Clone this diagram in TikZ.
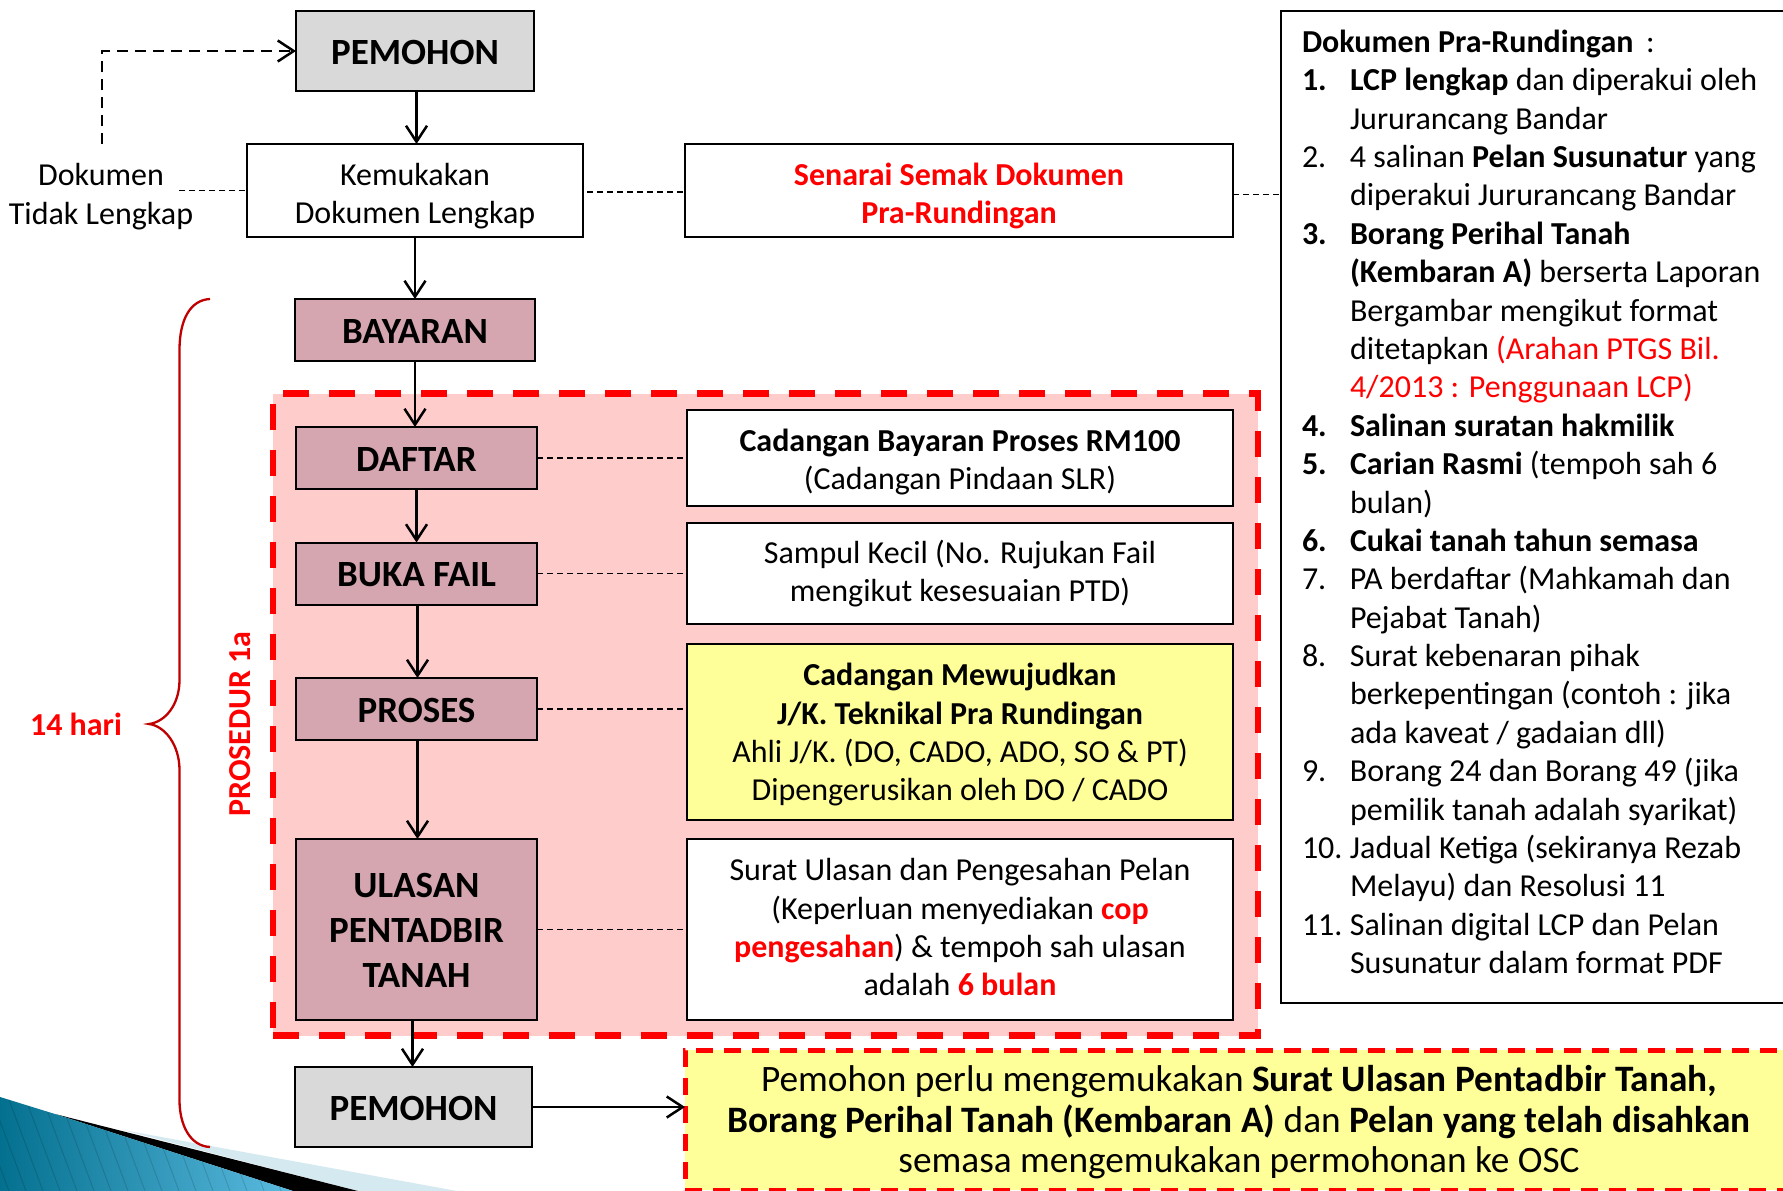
\documentclass[tikz,border=0pt]{standalone}
\usepackage{fontspec}
\setmainfont{Carlito}
\usetikzlibrary{arrows.meta,calc}
\definecolor{greybox}{HTML}{D9D9D9}
\definecolor{mauve}{HTML}{D5A6B0}
\definecolor{pinkbg}{HTML}{FFCCCC}
\definecolor{paleyel}{HTML}{FFFF99}
\definecolor{bracered}{HTML}{C00000}
\definecolor{tealdark}{HTML}{04708F}
\definecolor{teallight}{HTML}{5BBBE0}
\definecolor{palewedge}{HTML}{D5E9F1}
\newcommand{\fs}[2]{\fontsize{#1}{#2}\selectfont}
\newcommand{\rd}[1]{\textcolor{red}{#1}}
\newcommand{\itm}[1]{\makebox[48pt][l]{#1}}
\newcommand{\dn}[1]{\rule{0pt}{#1pt}}
\newcommand{\updepth}[1]{\rule[-#1pt]{0pt}{#1pt}}
\tikzset{
  x=1pt,y=-1pt,
  basebox/.style={draw=black,line width=2pt,inner sep=0pt,outer sep=0pt,align=center},
  whitebox/.style={basebox,fill=white,font=\fs{32}{38.4}},
  yellowbox/.style={basebox,fill=paleyel,font=\fs{32}{38.4}},
  greytitle/.style={basebox,fill=greybox,font=\fs{37}{45}\bfseries},
  mauvebox/.style={basebox,fill=mauve,font=\fs{37}{45}\bfseries},
  barb/.style={-{Straight Barb[length=16pt,width=21pt,line width=2.5pt]}},
  flow/.style={line width=2.5pt,barb},
  linkdash/.style={line width=1.8pt,dash pattern=on 6pt off 4pt},
  plain/.style={inner sep=0pt,outer sep=0pt,align=center}
}
\begin{document}
\begin{tikzpicture}
\useasboundingbox (0,0) rectangle (1783,1191);
\clip (0,0) rectangle (1783,1191);
% corner ornament
\fill[white] (0,0) rectangle (1783,1191);
\fill[palewedge] (123,1130) -- (457,1191) -- (358,1191) -- cycle;
\fill[black] (55,1114) -- (358,1191) -- (293,1191) -- cycle;
\begin{scope}
\clip (0,1097) -- (55,1114) -- (293,1191) -- (0,1191) -- cycle;
\shade[left color=tealdark,right color=teallight] (0,1097) rectangle (293,1191);
\foreach \sx in {-60,-43,...,290}
  \draw[black,opacity=.13,line width=1pt] (\sx,1097) -- ({\sx+35},1191);
\end{scope}
% red region
\node[draw=red,fill=pinkbg,line width=6.5pt,dash pattern=on 26pt off 20pt,minimum width=985pt,minimum height=642pt,inner sep=0pt,outer sep=0pt] (proc) at (765.5,714.5) {};
% boxes
\node[greytitle,minimum width=238pt,minimum height=80pt] (pem1) at (415,51) {\dn{26.5}PEMOHON};
\node[whitebox,minimum width=336pt,minimum height=93pt] (kem) at (415,190.5) {\dn{33}Kemukakan\\Dokumen Lengkap};
\node[whitebox,minimum width=548pt,minimum height=93pt,text=red,font=\fs{32}{38.4}\bfseries] (sen) at (959,190.5) {\dn{34}Senarai Semak Dokumen\\Pra-Rundingan};
\node[mauvebox,minimum width=240pt,minimum height=62pt] (bay) at (415,330) {\dn{26.5}BAYARAN};
\node[mauvebox,minimum width=241pt,minimum height=62pt] (daf) at (416.5,458) {\dn{26.5}DAFTAR};
\node[mauvebox,minimum width=241pt,minimum height=62pt] (buk) at (416.5,573.5) {\dn{26.5}BUKA FAIL};
\node[mauvebox,minimum width=241pt,minimum height=62pt] (pro) at (416.5,709) {\dn{26.5}PROSES};
\node[mauvebox,minimum width=241pt,minimum height=181pt] (ula) at (416.5,929.5) {\dn{26.5}ULASAN\\PENTADBIR\\TANAH};
\node[greytitle,minimum width=237pt,minimum height=80pt] (pem2) at (413.5,1107) {\dn{26.5}PEMOHON};
\node[whitebox,minimum width=546pt,minimum height=96pt] (cad) at (960,458) {\dn{30}\textbf{Cadangan Bayaran Proses RM100}\\(Cadangan Pindaan SLR)};
\node[whitebox,minimum width=546pt,minimum height=101pt] (sam) at (960,573.5) {Sampul Kecil (No. Rujukan Fail\\mengikut kesesuaian PTD)};
\node[yellowbox,minimum width=546pt,minimum height=176pt] (yel) at (960,732) {\dn{28}\textbf{Cadangan Mewujudkan}\\\textbf{J/K. Teknikal Pra Rundingan}\\Ahli J/K. (DO, CADO, ADO, SO \& PT)\\Dipengerusikan oleh DO / CADO};
\node[whitebox,minimum width=546pt,minimum height=181pt] (sur) at (960,929.5) {Surat Ulasan dan Pengesahan Pelan\\(Keperluan menyediakan \textbf{\rd{cop}}\\\textbf{\rd{pengesahan}}) \& tempoh sah ulasan\\adalah \textbf{\rd{6 bulan}}\updepth{4.6}};
% document list
\node[draw=black,line width=2pt,fill=white,inner sep=0pt,outer sep=0pt,minimum width=520pt,minimum height=992pt] (list) at (1541,507) {};
\node[plain,anchor=north west,align=left,font=\fs{32}{38.38}] (listtext) at (1302,30) {%
\textbf{Dokumen Pra-Rundingan}\, :\\
\itm{\textbf{1.}}\textbf{LCP lengkap} dan diperakui oleh\\
\itm{}Jururancang Bandar\\
\itm{2.}4 salinan \textbf{Pelan Susunatur} yang\\
\itm{}diperakui Jururancang Bandar\\
\itm{\textbf{3.}}\textbf{Borang Perihal Tanah}\\
\itm{}\textbf{(Kembaran A)} berserta Laporan\\
\itm{}Bergambar mengikut format\\
\itm{}ditetapkan \rd{(Arahan PTGS Bil.}\\
\itm{}\rd{4/2013 : Penggunaan LCP)}\\
\itm{\textbf{4.}}\textbf{Salinan suratan hakmilik}\\
\itm{\textbf{5.}}\textbf{Carian Rasmi} (tempoh sah 6\\
\itm{}bulan)\\
\itm{\textbf{6.}}\textbf{Cukai tanah tahun semasa}\\
\itm{7.}PA berdaftar (Mahkamah dan\\
\itm{}Pejabat Tanah)\\
\itm{8.}Surat kebenaran pihak\\
\itm{}berkepentingan (contoh : jika\\
\itm{}ada kaveat / gadaian dll)\\
\itm{9.}Borang 24 dan Borang 49 (jika\\
\itm{}pemilik tanah adalah syarikat)\\
\itm{10.}Jadual Ketiga (sekiranya Rezab\\
\itm{}Melayu) dan Resolusi 11\\
\itm{11.}Salinan digital LCP dan Pelan\\
\itm{}Susunatur dalam format PDF};
% bottom note
\node[draw=red,fill=paleyel,line width=5pt,dash pattern=on 17pt off 11pt,minimum width=1120pt,minimum height=140pt,inner sep=0pt,outer sep=0pt] (note) at (1245,1120) {};
\node[plain,font=\fs{37.3}{40.5}] (notetext) at (1239,1122.5) {Pemohon perlu mengemukakan \textbf{Surat Ulasan Pentadbir Tanah,}\\\textbf{Borang Perihal Tanah (Kembaran A)} dan \textbf{Pelan yang telah disahkan}\\semasa mengemukakan permohonan ke OSC};
% free labels
\node[plain,font=\fs{32}{38.4}] (dok) at (101,196.5) {Dokumen\\Tidak Lengkap};
\node[plain,font=\fs{32}{36}\bfseries,text=red] (hari) at (76,724) {14 hari};
\node[plain,font=\fs{32}{36}\bfseries,text=red,rotate=90] (pros) at (240,724) {PROSEDUR 1a};
% brace
\coordinate (bt) at (210,299);
\coordinate (bb) at (210,1147);
\coordinate (btip) at (149,724);
\draw[bracered,line width=2.3pt] (bt) .. controls (190,300) and (179.5,320) .. (179.5,350) -- (179.5,680) .. controls (179.5,705) and (165,722) .. (btip) .. controls (165,726) and (179.5,745) .. (179.5,770) -- (179.5,1100) .. controls (179.5,1125) and (190,1146) .. (bb);
% connectors
\coordinate (dokt) at (102,144);
\coordinate (dokr) at (179,190.5);
\draw[line width=2.8pt,dash pattern=on 11pt off 7pt,barb] (dokt) |- (pem1.west);
\draw[linkdash] (dokr) -- (kem.west);
\draw[linkdash] ([xshift=4pt,yshift=-1.5pt]kem.east) -- ([yshift=-1.5pt]sen.west);
\draw[linkdash] ([yshift=-4pt]sen.east) -- ([yshift=-4pt]sen.east -| list.west);
\draw[linkdash] (daf.east) -- (cad.west);
\draw[linkdash] (buk.east) -- (sam.west);
\draw[linkdash] (pro.east) -- (pro.east -| yel.west);
\draw[linkdash] (ula.east) -- (sur.west);
\draw[flow] ([xshift=1.5pt]pem1.south) -- ([xshift=1.5pt]kem.north);
\draw[flow] (kem.south) -- (bay.north);
\draw[flow] (bay.south) -- ([xshift=-1.5pt]daf.north);
\draw[flow] (daf.south) -- (buk.north);
\draw[flow] (buk.south -| 417.5,0) -- (pro.north -| 417.5,0);
\draw[flow] (pro.south -| 417.5,0) -- (ula.north -| 417.5,0);
\draw[flow] (ula.south -| 412.5,0) -- (pem2.north -| 412.5,0);
\draw[flow] (pem2.east) -- (pem2.east -| note.west);
\end{tikzpicture}
\end{document}
